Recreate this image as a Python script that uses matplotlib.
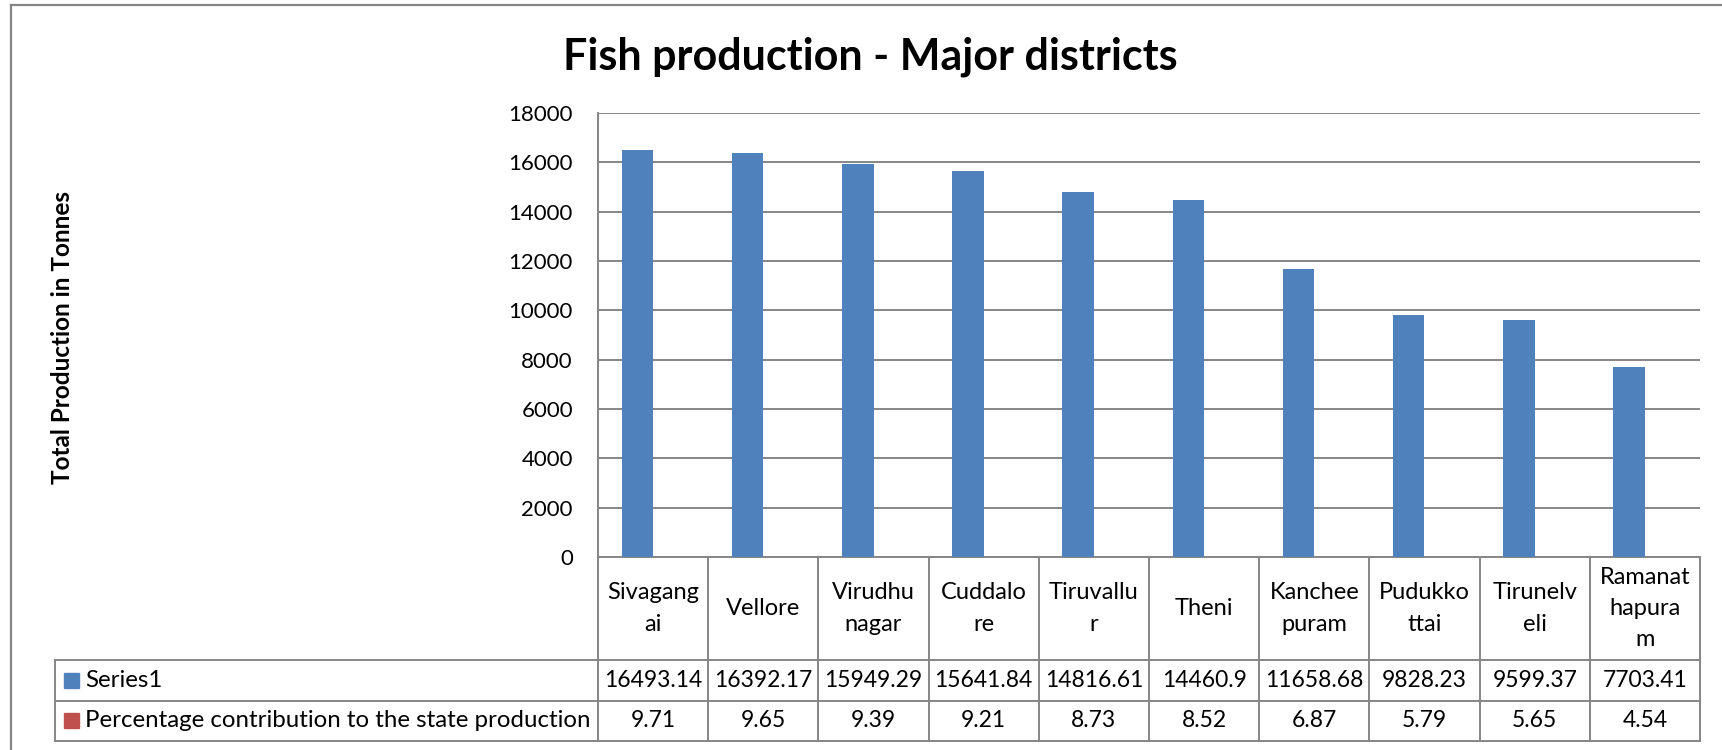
import numpy as np
import matplotlib
matplotlib.use("Agg")
import matplotlib.pyplot as plt
from matplotlib.patches import Rectangle
from matplotlib.lines import Line2D
import matplotlib.transforms as mtransforms

plt.rcParams['font.family'] = ['Lato', 'DejaVu Sans']

districts = ["Sivagang\nai", "Vellore", "Virudhu\nnagar", "Cuddalo\nre", "Tiruvallu\nr",
             "Theni", "Kanchee\npuram", "Pudukko\nttai", "Tirunelv\neli", "Ramanat\nhapura\nm"]
production = [16493.14, 16392.17, 15949.29, 15641.84, 14816.61,
              14460.9, 11658.68, 9828.23, 9599.37, 7703.41]
production_txt = ["16493.14", "16392.17", "15949.29", "15641.84", "14816.61",
                  "14460.9", "11658.68", "9828.23", "9599.37", "7703.41"]
percentage = [9.71, 9.65, 9.39, 9.21, 8.73, 8.52, 6.87, 5.79, 5.65, 4.54]
percentage_txt = ["9.71", "9.65", "9.39", "9.21", "8.73", "8.52", "6.87", "5.79", "5.65", "4.54"]
series_names = ["Series1", "Percentage contribution to the state production"]
yticks = list(range(0, 18001, 2000))

blue = "#4F81BD"
red = "#C0504D"
gray = "#868686"

W, H = 1722, 750
fig = plt.figure(figsize=(W / 100, H / 100), dpi=100)
ax = fig.add_axes([598 / W, 1 - 557 / H, (1700 - 598) / W, (557 - 113) / H])

x = np.arange(len(districts))
bw = 1 / 3.5
ax.bar(x - bw / 2, production, width=bw, color=blue, zorder=3)
ax.bar(x + bw / 2, percentage, width=bw, color=red, zorder=3)

ax.set_xlim(-0.5, len(districts) - 0.5)
ax.set_ylim(0, 18000)
ax.set_yticks(yticks)
ax.set_yticklabels([str(t) for t in yticks], fontsize=16)
ax.tick_params(axis='y', length=0, pad=18)
ax.set_xticks([])
ax.grid(axis='y', color=gray, lw=1.4, zorder=0)
for s in ['top', 'right']:
    ax.spines[s].set_visible(False)
for s in ['left', 'bottom']:
    ax.spines[s].set_color(gray)
    ax.spines[s].set_linewidth(1.4)

# data table under the axis
ax_h = 557 - 113
ax_w = 1700 - 598
y_head = -(660 - 557) / ax_h
y_r1 = -(700.7 - 557) / ax_h
y_r2 = -(740.7 - 557) / ax_h
x_lab = (55 - 598) / ax_w

blend = mtransforms.blended_transform_factory(ax.transData, ax.transAxes)

def hline(x0, x1, y, tr):
    ax.add_line(Line2D([x0, x1], [y, y], transform=tr, color=gray, lw=1.4, clip_on=False))

def vline(xv, y0, y1, tr):
    ax.add_line(Line2D([xv, xv], [y0, y1], transform=tr, color=gray, lw=1.4, clip_on=False))

hline(x_lab, 1, y_head, ax.transAxes)
hline(x_lab, 1, y_r1, ax.transAxes)
hline(x_lab, 1, y_r2, ax.transAxes)
vline(x_lab, y_r2, y_head, ax.transAxes)
for xe in np.arange(-0.5, len(districts), 1.0):
    vline(xe, y_r2, 0, blend)

for i, name in enumerate(districts):
    ax.text(i, y_head / 2, name, transform=blend, ha='center', va='center',
            fontsize=17, linespacing=1.6)
    ax.text(i, (y_head + y_r1) / 2, production_txt[i], transform=blend,
            ha='center', va='center', fontsize=16.5)
    ax.text(i, (y_r1 + y_r2) / 2, percentage_txt[i], transform=blend,
            ha='center', va='center', fontsize=16.5)

sq_w = 15 / ax_w
sq_h = 15 / ax_h
for ytop, ybot, name, col in [(y_head, y_r1, series_names[0], blue),
                              (y_r1, y_r2, series_names[1], red)]:
    yc = (ytop + ybot) / 2
    ax.add_patch(Rectangle((x_lab + 9 / ax_w, yc - sq_h / 2), sq_w, sq_h, color=col,
                           transform=ax.transAxes, clip_on=False))
    ax.text(x_lab + 30 / ax_w, yc, name, transform=ax.transAxes, ha='left', va='center',
            fontsize=17.3)

fig.text(870 / W, 1 - 57 / H, "Fish production - Major districts", ha='center', va='center',
         fontsize=31, fontweight='bold')
fig.text(62.5 / W, 1 - 337 / H, "Total Production in Tonnes", ha='center', va='center',
         rotation=90, fontsize=17.5, fontweight='bold')

# chart border (top and left edges visible)
fig.add_artist(Line2D([11 / W, 11 / W], [0, 1 - 5 / H], transform=fig.transFigure,
                      color=gray, lw=1.6))
fig.add_artist(Line2D([11 / W, 1], [1 - 5 / H, 1 - 5 / H], transform=fig.transFigure,
                      color=gray, lw=1.6))

fig.savefig("out.png", dpi=100)
